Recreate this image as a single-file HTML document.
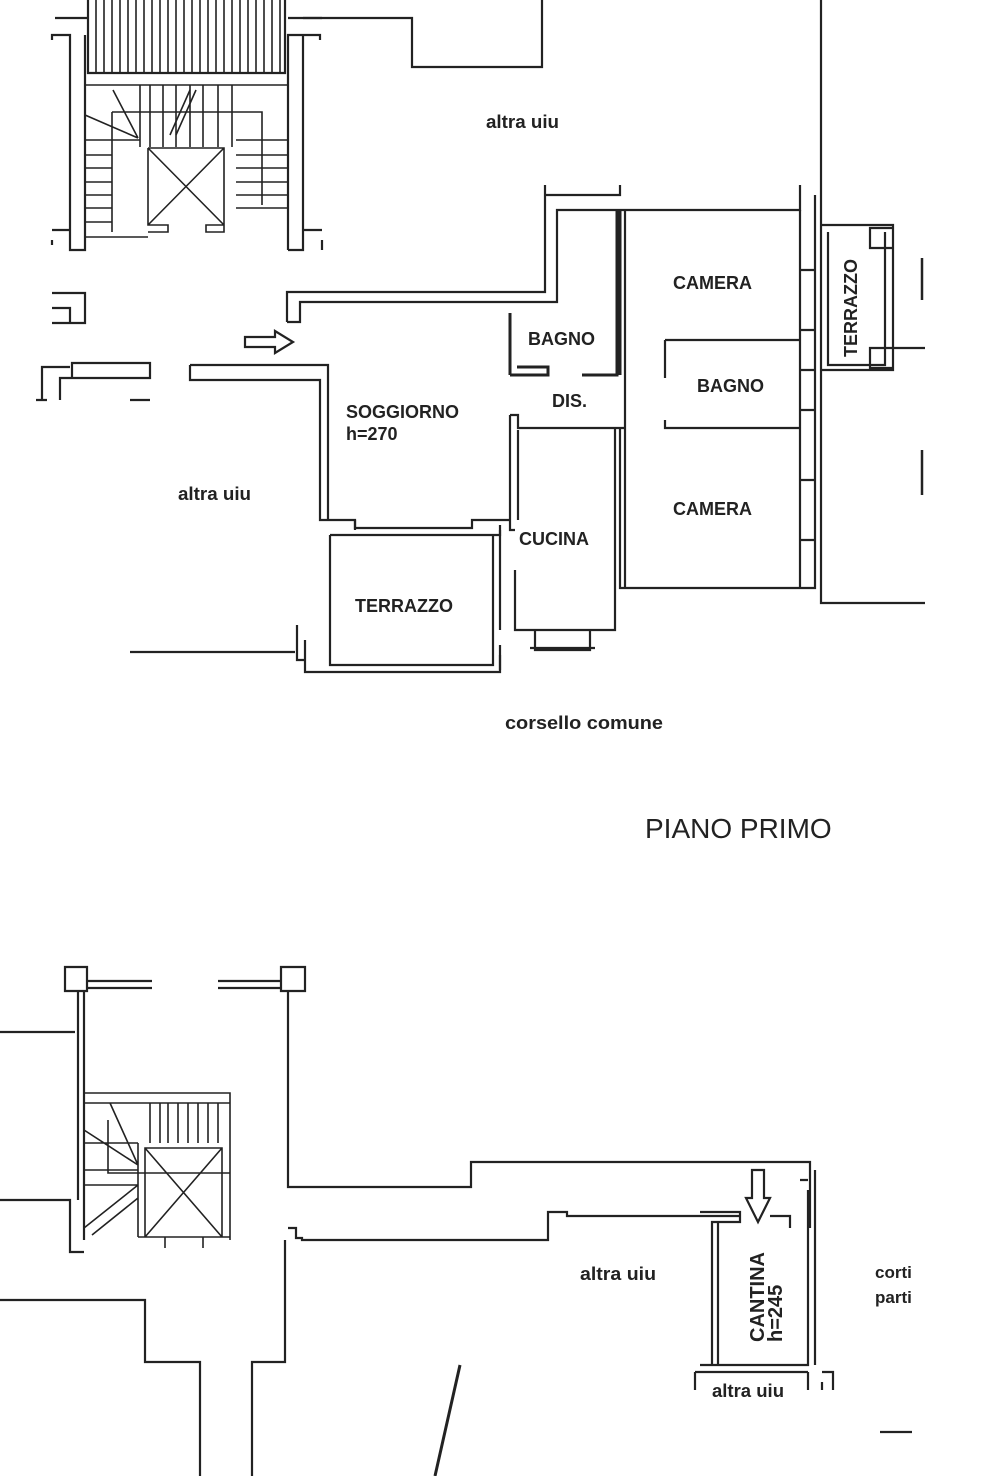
<!DOCTYPE html>
<html><head><meta charset="utf-8"><style>
body{margin:0;background:#fff}
svg{display:block}
text{font-family:"Liberation Sans",sans-serif;font-weight:bold;fill:#222}
</style></head><body>
<svg width="984" height="1476" viewBox="0 0 984 1476" xmlns="http://www.w3.org/2000/svg">
<g fill="none" stroke="#222" stroke-width="2.2">
<path d="M88 0V73H285V0"/>
<g stroke-width="1.6">
<path d="M96 0V73M104 0V73M112 0V73M120 0V73M128 0V73M136 0V73M144 0V73M152 0V73M160 0V73M168 0V73M176 0V73M184 0V73M192 0V73M200 0V73M208 0V73M216 0V73M224 0V73M232 0V73M240 0V73M248 0V73M256 0V73M264 0V73M272 0V73M280 0V73"/>
<path d="M85 85H288V205M85 85V237H148M112 112H262V205M112 112V232M140 85V147M150 85V147M163 85V147M176 85V147M190 85V147M203 85V147M218 85V147M232 85V147M85 140H140M85 155H112M85 168H112M85 182H112M85 195H112M85 208H112M85 222H112M236 140H288M236 155H288M236 168H288M236 182H288M236 195H288M236 208H288M113 90L138 138M85 115L138 138"/>
<path d="M148 148H224V225H206V232H224V148M148 148V225H168V232H148M148 148L224 225M224 148L148 225M170 135L190 90M176 135L196 90"/>
</g>
<path d="M70 237V35H52V40M85 35V250H70V237M52 230H70M52 240V245"/>
<path d="M288 250V35H320V40M303 35V250H288M303 230H322M322 240V250"/>
<path d="M55 18H88M288 18H322"/>
<path d="M303 18H412V67H542V0M821 0V603H925"/>
<path d="M52 293H85V323H52M52 308H70V323"/>
<path d="M36 400H47M130 400H150M60 400V378H150V363H72V378M42 400V367H70"/>
<path d="M287 322H300V302H557V210H800V195M287 322V292H545V185M545 195H620V185M800 185V195"/>
<path d="M190 365V380H320V520H355V530M190 365H328V520"/>
<path d="M245 337H275V331L293 342L275 353V347H245Z"/>
<path d="M305 640V672H500V655M330 535H500V530M330 535V665H493V535M355 520V528H472V520H510M297 625V660H305"/>
<path d="M130 652H295"/>
<path d="M510 313V375M510 375H548V367H517M582 375H617V210M620 210V375" stroke-width="3"/>
<path d="M510 415V530H515M510 415H518V428H625M518 430V520M500 525V630M515 570V630H615V428M500 645V670M535 630V650H590V630M530 648H595"/>
<path d="M620 428V588H800M625 210V588M665 340H800M665 340V378M665 420V428H800M800 210V588H815V195M800 270H815M800 330H815M800 370H815M800 410H815M800 480H815M800 540H815"/>
<path d="M821 225H893V370H821M828 232V365H885V232M870 228H893V248H870ZM870 348H893V368H870ZM893 348H925"/>
<path d="M922 258V300M922 450V495" stroke-width="2.5"/>
<path d="M65 967H87V991H65ZM281 967H305V991H281ZM87 981H152M87 988H152M218 981H281M218 988H281"/>
<path d="M78 991V1200M84 991V1240M0 1032H75M0 1200H70V1252H84M0 1300H145V1362H200V1476M252 1476V1362H285V1240"/>
<path d="M288 991V1187H471V1162H810V1228"/>
<g stroke-width="1.6">
<path d="M84 1093H230V1240M84 1103H230M84 1143H138M84 1170H138M84 1185H138M108 1120V1173H230M110 1103L138 1165M84 1130L138 1165M150 1103V1143M160 1103V1143M168 1103V1143M178 1103V1143M188 1103V1143M198 1103V1143M208 1103V1143M218 1103V1143M138 1143V1237M84 1228L138 1185M92 1235L138 1198"/>
<path d="M145 1148H222V1237H145ZM145 1148L222 1237M222 1148L145 1237M138 1237H165V1248M203 1248V1237H230"/>
</g>
<path d="M288 1228H296V1238H302V1240H548V1212H567V1216H700M700 1216H740M770 1216H790V1228"/>
<path d="M700 1212H740V1222H712V1365M718 1222V1365M808 1190V1365H712M815 1170V1365M808 1180H800M700 1365H808M695 1372H808M695 1372V1390M808 1372V1390M822 1372H833V1390M822 1382V1390"/>
<path d="M752 1170H764V1198H770L758 1222L746 1198H752Z"/>
<path d="M460 1365L435 1476" stroke-width="3"/>
<path d="M880 1432H912"/>
</g>
<text x="486" y="128" font-size="18" textLength="73" lengthAdjust="spacingAndGlyphs">altra uiu</text>
<text x="178" y="500" font-size="18" textLength="73" lengthAdjust="spacingAndGlyphs">altra uiu</text>
<text x="346" y="418" font-size="18">SOGGIORNO</text>
<text x="346" y="440" font-size="18">h=270</text>
<text x="528" y="345" font-size="18">BAGNO</text>
<text x="552" y="407" font-size="18">DIS.</text>
<text x="673" y="289" font-size="18">CAMERA</text>
<text x="697" y="392" font-size="18">BAGNO</text>
<text x="673" y="515" font-size="18">CAMERA</text>
<text x="519" y="545" font-size="18">CUCINA</text>
<text x="355" y="612" font-size="18">TERRAZZO</text>
<text transform="translate(857,357) rotate(-90)" font-size="18">TERRAZZO</text>
<text x="505" y="729" font-size="18" textLength="158" lengthAdjust="spacingAndGlyphs">corsello comune</text>
<text x="645" y="838" font-size="28" style="font-weight:normal">PIANO PRIMO</text>
<text x="580" y="1280" font-size="18" textLength="76" lengthAdjust="spacingAndGlyphs">altra uiu</text>
<text x="712" y="1397" font-size="18" textLength="72" lengthAdjust="spacingAndGlyphs">altra uiu</text>
<text x="875" y="1278" font-size="17">corti</text>
<text x="875" y="1303" font-size="17">parti</text>
<text transform="translate(764,1342) rotate(-90)" font-size="20">CANTINA</text>
<text transform="translate(782,1342) rotate(-90)" font-size="20">h=245</text>
</svg>
</body></html>
